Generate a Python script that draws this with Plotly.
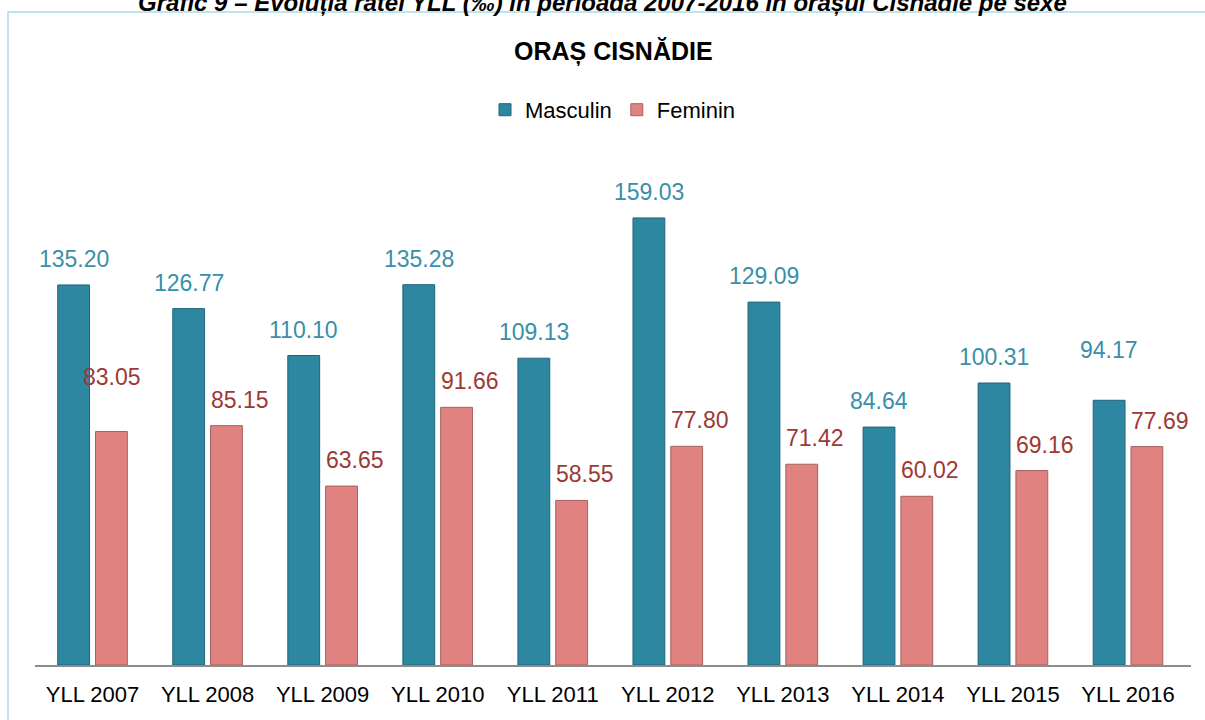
import plotly.graph_objects as go

categories = ["YLL 2007", "YLL 2008", "YLL 2009", "YLL 2010", "YLL 2011",
              "YLL 2012", "YLL 2013", "YLL 2014", "YLL 2015", "YLL 2016"]
masculin = [135.20, 126.77, 110.10, 135.28, 109.13, 159.03, 129.09, 84.64, 100.31, 94.17]
feminin = [83.05, 85.15, 63.65, 91.66, 58.55, 77.80, 71.42, 60.02, 69.16, 77.69]

caption = "Grafic 9 – Evoluția ratei YLL (‰) în perioada 2007-2016 în orașul Cisnădie pe sexe"
chart_title = "ORAȘ CISNĂDIE"

FONT = "Liberation Sans, Arial, sans-serif"
BLUE = "#2E87A1"
PINK = "#E0827F"
BLUE_TXT = "#3A8FA8"
PINK_TXT = "#9E3835"

fig = go.Figure()
fig.add_trace(go.Bar(x=categories, y=masculin, name="Masculin",
                     marker=dict(color=BLUE, line=dict(color="#1F6478", width=1))))
fig.add_trace(go.Bar(x=categories, y=feminin, name="Feminin",
                     marker=dict(color=PINK, line=dict(color="#A86060", width=1))))

# data labels (nudges for the few labels displaced in the original)
extra_lift = {("f", 0): 29, ("m", 9): 24}
anns = []
for i, (c, v) in enumerate(zip(categories, masculin)):
    anns.append(dict(x=c, y=v, xref="x", yref="y", text=f"{v:.2f}", showarrow=False,
                     xshift=-19, yshift=26 + extra_lift.get(("m", i), 0),
                     font=dict(family=FONT, size=23, color=BLUE_TXT)))
for i, (c, v) in enumerate(zip(categories, feminin)):
    anns.append(dict(x=c, y=v, xref="x", yref="y", text=f"{v:.2f}", showarrow=False,
                     xshift=19 + (0 if i == 0 else 13), yshift=26 + extra_lift.get(("f", i), 0),
                     font=dict(family=FONT, size=23, color=PINK_TXT)))

anns.append(dict(x=0.5, y=1.2115, xref="paper", yref="paper", text=f"<b>{chart_title}</b>",
                 showarrow=False, xanchor="center", yanchor="middle",
                 font=dict(family=FONT, size=25, color="#000000")))

fig.update_layout(
    width=1205, height=720,
    margin=dict(l=35, r=14, t=159, b=55),
    paper_bgcolor="white", plot_bgcolor="white",
    barmode="group", bargap=0.343, bargroupgap=0.158,
    title=dict(text=f"<b><i>{caption}</i></b>", x=0.5, xanchor="center",
               y=0.997, yanchor="middle", yref="container",
               font=dict(family=FONT, size=24, color="#000000")),
    legend=dict(orientation="h", x=0.5, xanchor="center", y=1.097, yanchor="middle",
                font=dict(family=FONT, size=22, color="#000000"), itemwidth=30,
                traceorder="normal"),
    xaxis=dict(showgrid=False, showline=True, linecolor="#8C8C8C", linewidth=1.5,
               ticks="", tickfont=dict(family=FONT, size=22, color="#000000"),
               ticklabelstandoff=9),
    yaxis=dict(range=[0, 180], visible=False, showgrid=False, zeroline=False),
    annotations=anns,
    shapes=[dict(type="rect", xref="paper", yref="paper",
                 x0=(8 - 35) / 1156, x1=(1260 - 35) / 1156,
                 y0=(665 - 780) / 506, y1=(665 - 12) / 506,
                 line=dict(color="#A9DCEB", width=1.5), fillcolor="rgba(0,0,0,0)",
                 layer="below")],
)

fig.write_html("out.html", config={"displayModeBar": False},
               post_script="document.body.style.margin='0';document.body.style.overflow='hidden';")
